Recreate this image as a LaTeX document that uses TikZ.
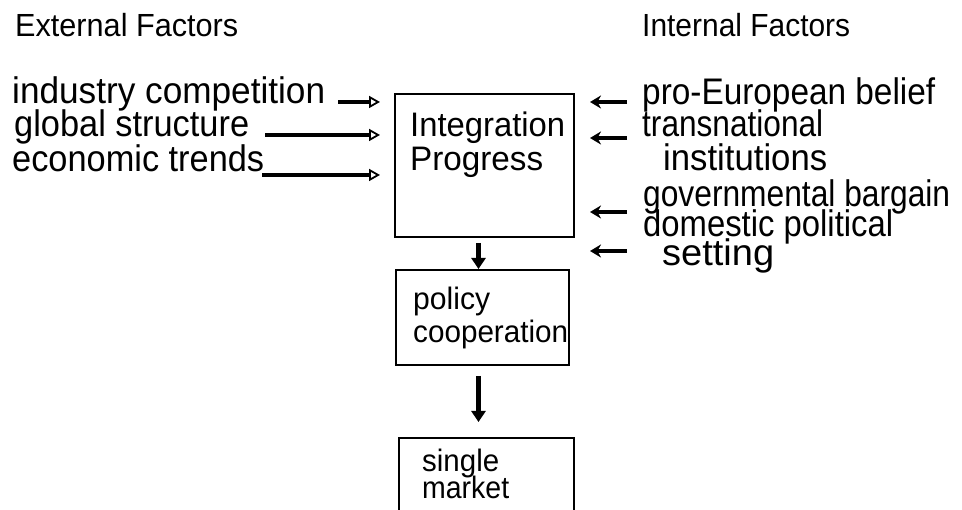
\documentclass[tikz,border=0pt]{standalone}
\usepackage{fontspec}
\setmainfont{Liberation Sans}
\usepackage{graphicx}
\usetikzlibrary{arrows.meta}
\newcommand\fitw[2]{\resizebox{#1pt}{\height}{#2}}
\begin{document}
\begin{tikzpicture}[x=1pt,y=-1pt,
  txt/.style={inner sep=0pt, anchor=base west, font=\fontsize{37}{37}\selectfont},
  boxtxt/.style={inner sep=0pt, anchor=base west, font=\fontsize{34}{34}\selectfont},
  smalltxt/.style={inner sep=0pt, anchor=base west, font=\fontsize{31}{31}\selectfont},
  head/.style={inner sep=0pt, anchor=base west, font=\fontsize{32}{32}\selectfont},
  boxed/.style={draw, line width=2pt, inner sep=0pt, anchor=north west},
  larrow/.style={line width=4pt, -{Triangle[open, length=11pt, width=12pt, line width=1.8pt]}},
  rarrow/.style={line width=4.5pt, -{Stealth[length=11pt, width=13pt]}},
  darrow/.style={line width=4.5pt, -{Triangle[length=11pt, width=14pt]}}
]
\useasboundingbox (0,0) rectangle (962,510);

% headings
\node[head] (ext) at (15,37) {\fitw{223}{External Factors}};
\node[head] (int) at (642,37) {\fitw{208}{Internal Factors}};

% boxes
\node[boxed, minimum width=179pt, minimum height=143pt] (ip) at (394,93) {};
\node[boxed, minimum width=173pt, minimum height=95pt] (pc) at (395,269) {};
\node[boxed, minimum width=175pt, minimum height=100pt] (sm) at (398,437) {};

% box texts
\node[boxtxt] (intg) at (410,137) {\fitw{155}{Integration}};
\node[boxtxt] (prog) at (410,171) {\fitw{133}{Progress}};
\node[smalltxt] (pol) at (413,310) {\fitw{77}{policy}};
\node[smalltxt] (coo) at (413,343) {\fitw{155}{cooperation}};
\node[smalltxt] (sin) at (422,472) {\fitw{77}{single}};
\node[smalltxt] (mar) at (422,499) {\fitw{87}{market}};

% external factors
\node[txt] (ind) at (12,104) {\fitw{313}{industry competition}};
\node[txt] (glo) at (14,137) {\fitw{235}{global structure}};
\node[txt] (eco) at (12,172) {\fitw{252}{economic trends}};

% internal factors
\node[txt] (pro) at (642,105) {\fitw{293}{pro-European belief}};
\node[txt] (tra) at (642,137) {\fitw{181}{transnational}};
\node[txt] (ins) at (663,171) {\fitw{164}{institutions}};
\node[txt] (gov) at (643,207) {\fitw{307}{governmental bargain}};
\node[txt] (dom) at (643,237) {\fitw{250}{domestic political}};
\node[txt] (set) at (662,266) {\fitw{112}{setting}};

% arrow tails
\coordinate (l1) at (338,102);
\coordinate (l2) at (265,135);
\coordinate (l3) at (262,175);
\coordinate (r1) at (627,102);
\coordinate (r2) at (627,138);
\coordinate (r3) at (627,212);
\coordinate (r4) at (627,251);

\draw[larrow] (l1) -- ([xshift=-14pt]ip.west |- l1);
\draw[larrow] (l2) -- ([xshift=-14pt]ip.west |- l2);
\draw[larrow] (l3) -- ([xshift=-14pt]ip.west |- l3);

\draw[rarrow] (r1) -- ([xshift=15pt]ip.east |- r1);
\draw[rarrow] (r2) -- ([xshift=15pt]ip.east |- r2);
\draw[rarrow] (r3) -- ([xshift=15pt]ip.east |- r3);
\draw[rarrow] (r4) -- ([xshift=15pt]ip.east |- r4);

\draw[darrow, shorten <=5pt] ([xshift=-6pt]ip.south) -- ([xshift=-6pt]ip.south |- pc.north);
\draw[darrow, shorten <=10pt, shorten >=15pt] ([xshift=-4pt]pc.south) -- ([xshift=-4pt]pc.south |- sm.north);
\end{tikzpicture}
\end{document}
